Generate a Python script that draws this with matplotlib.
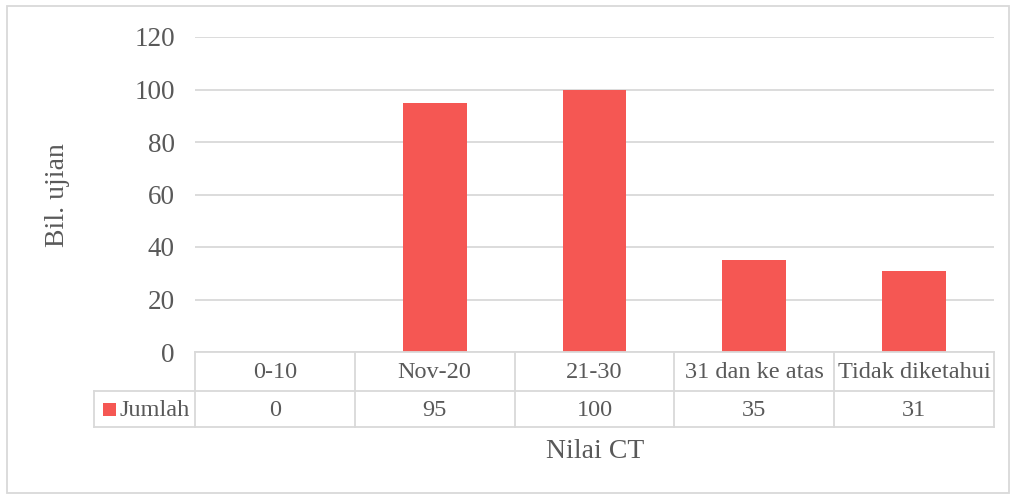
import matplotlib
matplotlib.use("Agg")
import matplotlib.pyplot as plt
from matplotlib.patches import Rectangle
from matplotlib.lines import Line2D
import matplotlib.transforms as mtransforms

categories = ["0-10", "Nov-20", "21-30", "31 dan ke atas", "Tidak diketahui"]
values = [0, 95, 100, 35, 31]
series_name = "Jumlah"
y_ticks = [0, 20, 40, 60, 80, 100, 120]

W, H = 1010, 495
BAR = "#F55753"
GRID = "#D9D9D9"
TXT = "#595959"
plt.rcParams['font.family'] = ['Liberation Serif', 'DejaVu Serif']

fig = plt.figure(figsize=(W / 100, H / 100), dpi=100)
ax = fig.add_axes([195 / W, (H - 352) / H, (994 - 195) / W, (352 - 37) / H])

x = list(range(len(categories)))
ax.bar(x, values, width=0.4, color=BAR, zorder=3)
ax.set_xlim(-0.5, len(categories) - 0.5)
ax.set_ylim(0, 120)
ax.set_yticks(y_ticks)
ax.set_yticklabels([str(v) for v in y_ticks], fontsize=19.5, color=TXT)
ax.tick_params(axis='y', length=0, pad=14.4)
ax.set_xticks([])
ax.grid(axis='y', color=GRID, linewidth=1.3, zorder=0)
for s in ["top", "right", "left", "bottom"]:
    ax.spines[s].set_visible(False)

def fy(py):
    return (H - py) / H

trans = mtransforms.blended_transform_factory(ax.transData, fig.transFigure)
row1_top, row1_bot, row2_bot = 352, 391, 427
lw = 1.3
ax_left = -0.5
ax_right = len(categories) - 0.5
fig.add_artist(Line2D([ax_left, ax_right], [fy(row1_top)] * 2, transform=trans, color=GRID, lw=lw))
fig.add_artist(Line2D([94 / W, 994 / W], [fy(row1_bot)] * 2, transform=fig.transFigure, color=GRID, lw=lw))
fig.add_artist(Line2D([94 / W, 994 / W], [fy(row2_bot)] * 2, transform=fig.transFigure, color=GRID, lw=lw))
for i in range(len(categories) + 1):
    xb = i - 0.5
    fig.add_artist(Line2D([xb, xb], [fy(row1_top), fy(row2_bot)], transform=trans, color=GRID, lw=lw))
fig.add_artist(Line2D([94 / W, 94 / W], [fy(row1_bot), fy(row2_bot)], transform=fig.transFigure, color=GRID, lw=lw))

TFS = 17.5
for i, (c, v) in enumerate(zip(categories, values)):
    fig.text(i, fy((row1_top + row1_bot) / 2 + 1), c, transform=trans, ha='center', va='center',
             fontsize=TFS, color=TXT)
    fig.text(i, fy((row1_bot + row2_bot) / 2 + 1), str(v), transform=trans, ha='center', va='center',
             fontsize=TFS, color=TXT)

fig.add_artist(Rectangle((103 / W, fy(416)), 13 / W, 13 / H, transform=fig.transFigure,
                         facecolor=BAR, edgecolor='none'))
fig.text(119 / W, fy((row1_bot + row2_bot) / 2 + 1), series_name, ha='left', va='center',
         fontsize=TFS, color=TXT)

fig.text(58 / W, fy(195), "Bil. ujian", rotation=90, ha='center', va='center', fontsize=20, color=TXT)
fig.text(595 / W, fy(451), "Nilai CT", ha='center', va='center', fontsize=20, color=TXT)

fig.add_artist(Rectangle((7 / W, fy(493)), (1009 - 7) / W, (493 - 6) / H, transform=fig.transFigure,
                         facecolor='none', edgecolor=GRID, lw=1.3))

fig.savefig("out.png", dpi=100)
